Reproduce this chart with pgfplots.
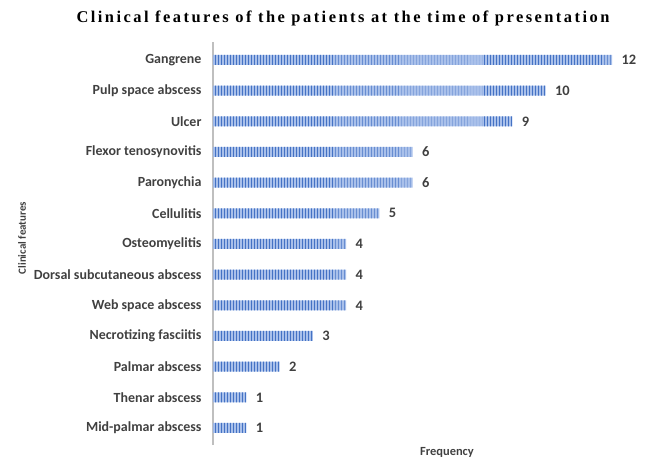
\documentclass[border=0pt]{standalone}
\usepackage{pgfplots}
\pgfplotsset{compat=1.18}
\usetikzlibrary{patterns}
\usepackage{fontspec}
\setmainfont{Carlito}
\newfontfamily\titlefont[LetterSpace=15]{Liberation Serif}
\definecolor{txt}{HTML}{404040}
\definecolor{barblue}{HTML}{4472C4}
\definecolor{barlight}{HTML}{A9C0EA}
\begin{document}
\begin{tikzpicture}
\useasboundingbox (-213bp,-14bp) rectangle (437bp,445bp);
\begin{axis}[
  at={(0,0)}, anchor=south west,
  scale only axis, width=427bp, height=403bp,
  xmin=0, xmax=12.84, ymin=-0.555, ymax=12.587,
  xbar, bar width=10bp,
  axis lines*=left,
  x axis line style={draw=none},
  y axis line style={draw=black!25, line width=1.6bp},
  xtick=\empty,
  ytick={0,...,12},
  yticklabels={Mid-palmar abscess, Thenar abscess, Palmar abscess, Necrotizing fasciitis, Web space abscess, Dorsal subcutaneous abscess, Osteomyelitis, Cellulitis, Paronychia, Flexor tenosynovitis, Ulcer, Pulp space abscess, Gangrene},
  major tick length=0pt,
  yticklabel style={font=\fontsize{14}{16}\selectfont\bfseries, text=txt, xshift=-8bp},
  nodes near coords,
  nodes near coords style={font=\fontsize{14.5}{16}\selectfont\bfseries, text=txt, anchor=west, xshift=6bp},
  point meta=explicit symbolic,
  clip=false,
]
\addplot[draw=none, fill=barlight, postaction={pattern=vertical lines, pattern color=barblue}] coordinates {
(1,0) [1]
(1,1) [1]
(2,2) [2]
(3,3) [3]
(4,4) [4]
(4,5) [4]
(4,6) [4]
(5,7) [5]
(6,8) [6]
(6,9) [6]
(9,10) [9]
(10,11) [10]
(12,12) [12]
};
\end{axis}
\node[font=\titlefont\fontsize{16.5}{19}\selectfont\bfseries, text=black] at (130bp,427bp) {Clinical features of the patients at the time of presentation};
\node[rotate=90, font=\fontsize{11}{13}\selectfont\bfseries, text=txt] at (-191bp,207bp) {Clinical features};
\node[font=\fontsize{12.5}{14}\selectfont\bfseries, text=txt] at (234bp,-7bp) {Frequency};
\end{tikzpicture}
\end{document}
